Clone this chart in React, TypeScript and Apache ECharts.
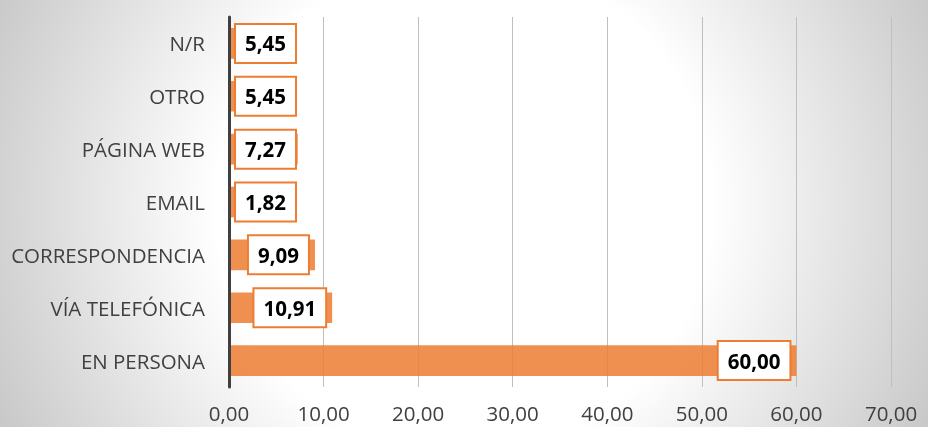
import React, { useEffect, useRef } from "react";
import * as echarts from "echarts";

const categories = [
  "EN PERSONA",
  "VÍA TELEFÓNICA",
  "CORRESPONDENCIA",
  "EMAIL",
  "PÁGINA WEB",
  "OTRO",
  "N/R",
];
const values = [60.0, 10.91, 9.09, 1.82, 7.27, 5.45, 5.45];
const axisMin = 0;
const axisMax = 70;
const axisInterval = 10;
// values below this are too short to hold their label inside the bar end
const labelFitThreshold = 8;

const fmt = (v: number) => v.toFixed(2).replace(".", ",");

export default function App() {
  const ref = useRef<HTMLDivElement>(null);
  useEffect(() => {
    if (!ref.current) return;
    const chart = echarts.init(ref.current, null, { renderer: "svg" });
    chart.setOption({
      animation: false,
      backgroundColor: "transparent",
      textStyle: { fontFamily: "Open Sans" },
      grid: { left: 229, right: 37, top: 17, bottom: 40, containLabel: false },
      xAxis: {
        type: "value",
        min: axisMin,
        max: axisMax,
        interval: axisInterval,
        axisLine: { show: false },
        axisTick: { show: false },
        axisLabel: {
          formatter: (v: number) => fmt(v),
          color: "#404040",
          fontSize: 20.5,
          lineHeight: 20,
          margin: 16,
          fontFamily: "Open Sans",
        },
        splitLine: { show: true, lineStyle: { color: "#bfbfbf", width: 1 } },
      },
      yAxis: {
        type: "category",
        data: categories,
        z: 3,
        axisLine: { show: true, lineStyle: { color: "#404040", width: 3 } },
        axisTick: { show: false },
        axisLabel: {
          color: "#404040",
          fontSize: 20.5,
          margin: 24,
          fontFamily: "Open Sans",
        },
        splitLine: { show: false },
      },
      series: [
        {
          type: "bar",
          barWidth: "58%",
          itemStyle: { color: "rgba(237,125,49,0.85)" },
          data: values.map((v) => ({
            value: v,
            label: {
              position: v < labelFitThreshold ? "insideLeft" : "insideRight",
              distance: 7,
            },
          })),
          label: {
            show: true,
            formatter: (p: any) => fmt(p.value),
            color: "#000",
            fontWeight: "bold",
            fontSize: 20.5,
            fontFamily: "Open Sans",
            backgroundColor: "#ffffff",
            borderColor: "#ed7d31",
            borderWidth: 2,
            padding: [8, 9, 8, 9],
          },
        },
      ],
    });
    return () => chart.dispose();
  }, []);
  return (
    <div
      ref={ref}
      style={{
        position: "fixed",
        left: 0,
        top: 0,
        width: 928,
        height: 427,
        background:
          "radial-gradient(circle farthest-corner at 50% 48%, #ffffff 48%, #c8c8c8 100%)",
      }}
    />
  );
}
